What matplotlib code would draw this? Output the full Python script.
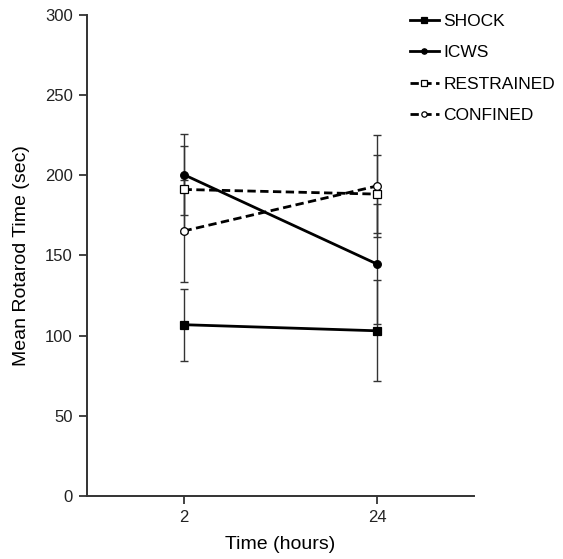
import matplotlib
matplotlib.use("Agg")
import matplotlib.pyplot as plt
import numpy as np

plt.rcParams['font.family'] = ['Liberation Sans', 'DejaVu Sans']

# data
time_labels = ["2", "24"]
groups = ["SHOCK", "ICWS", "RESTRAINED", "CONFINED"]
shock = [106.9, 103.1]
shock_err = [22.5, 31.5]
icws = [200.4, 144.6]
icws_err = [25.5, 37.5]
restrained = [191.1, 188.2]
restrained_err = [27.0, 24.5]
confined = [165.2, 193.3]
confined_err = [31.8, 31.5]

x = np.arange(len(time_labels))

fig = plt.figure(figsize=(5.63, 5.59), dpi=100)
ax = fig.add_axes([0.154, 0.112, 0.688, 0.862])

styles = [
    (shock, shock_err, "-", "s", "black", 5.5),
    (icws, icws_err, "-", "o", "black", 5.5),
    (restrained, restrained_err, "--", "s", "white", 6),
    (confined, confined_err, "--", "o", "white", 5.5),
]

for (vals, err, ls, mk, fc, ms), name in zip(styles, groups):
    ax.errorbar(x, vals, yerr=err, fmt="none", ecolor="#333333",
                elinewidth=1.0, capsize=3.0, capthick=1.0, zorder=1)
    ax.plot(x, vals, linestyle=ls, marker=mk, color="black", lw=2.0,
            markerfacecolor=fc, markeredgecolor="black", markeredgewidth=0.9,
            markersize=ms, label=name, zorder=3,
            dashes=(3, 1.6) if ls == "--" else (None, None))

ax.set_xlim(-0.5, 1.5)
ax.set_ylim(0, 300)
ax.set_xticks(x)
ax.set_xticklabels(time_labels)
ax.set_yticks(np.arange(0, 301, 50))
ax.tick_params(axis="both", labelsize=12, length=6, width=1.2, pad=4,
               direction="out", colors="#222222")
for side in ["top", "right"]:
    ax.spines[side].set_visible(False)
for side in ["left", "bottom"]:
    ax.spines[side].set_linewidth(1.4)
    ax.spines[side].set_color("#333333")

ax.set_xlabel("Time (hours)", fontsize=14, labelpad=8)
ax.set_ylabel("Mean Rotarod Time (sec)", fontsize=14, labelpad=11)

fig.legend(loc="upper left", bbox_to_anchor=(410 / 563, 1 - 14 / 559),
           frameon=False, fontsize=12.5, handlelength=1.67, handletextpad=0.25,
           labelspacing=0.93, markerscale=0.7, borderpad=0, borderaxespad=0)

fig.savefig("out.png", dpi=100)
